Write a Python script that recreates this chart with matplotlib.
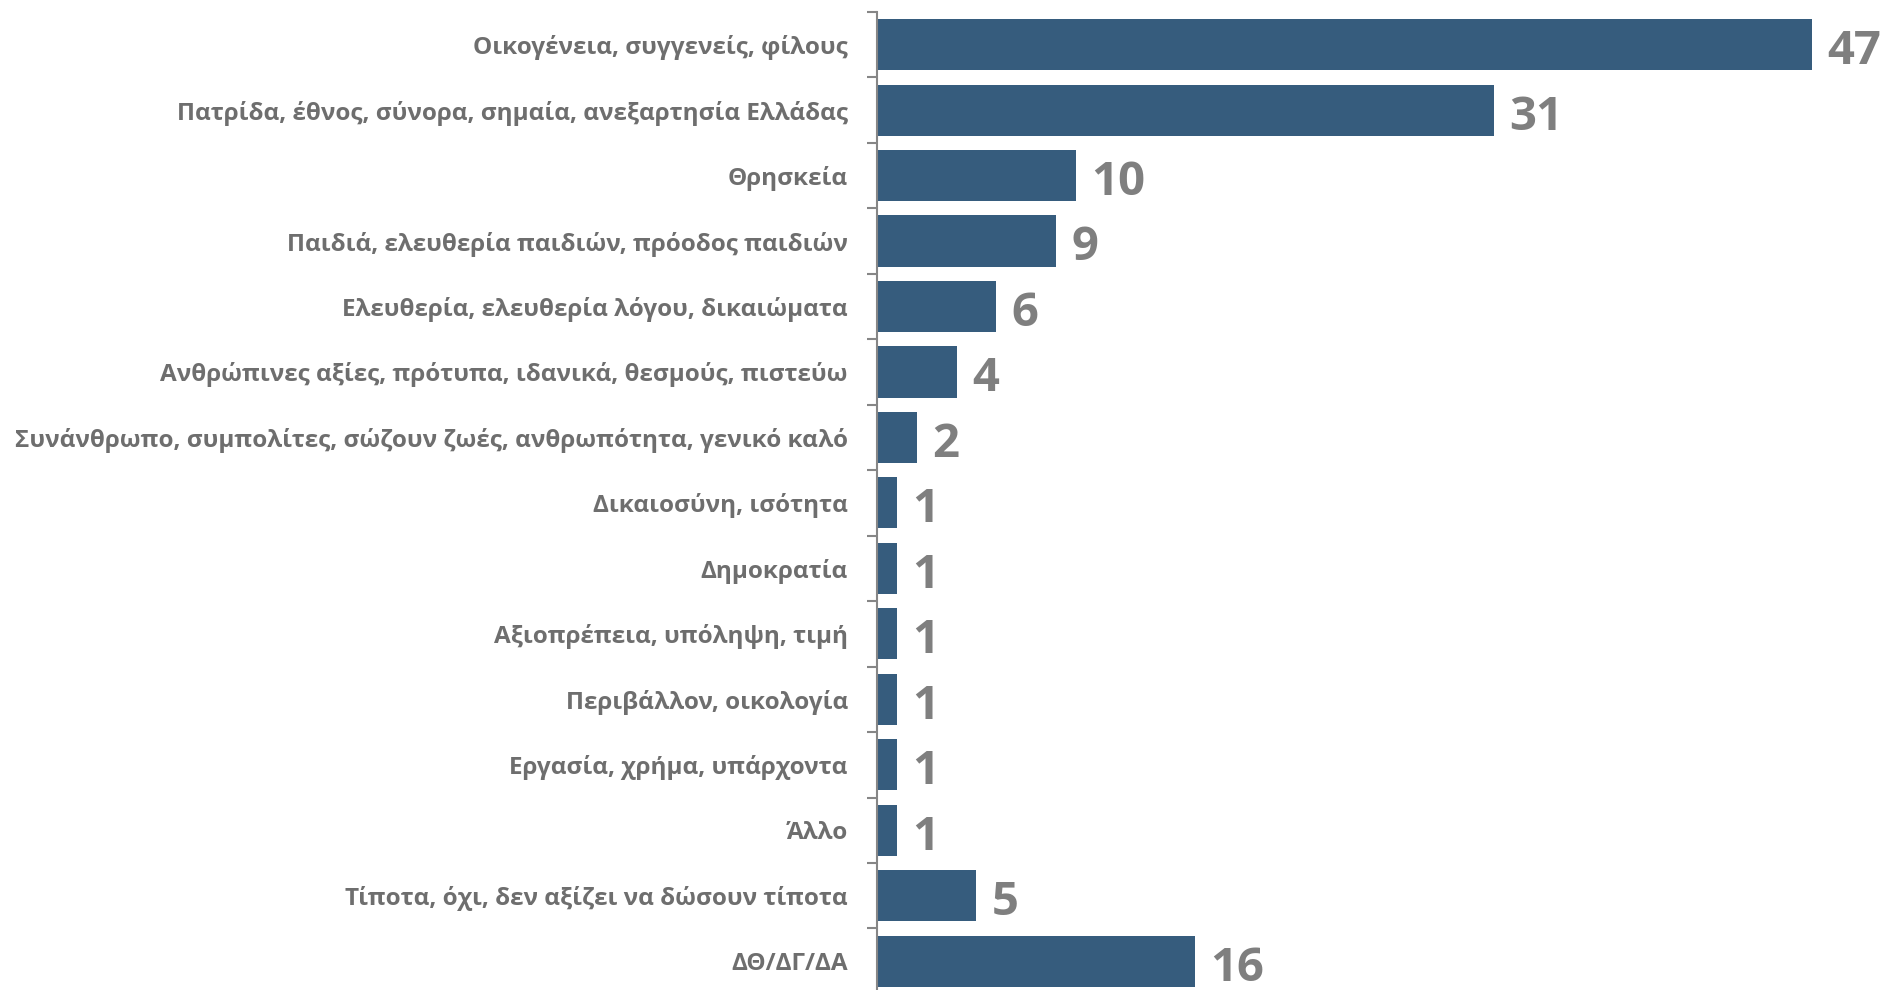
import matplotlib.pyplot as plt
from matplotlib import font_manager

categories = [
    "Οικογένεια, συγγενείς, φίλους",
    "Πατρίδα, έθνος, σύνορα, σημαία, ανεξαρτησία Ελλάδας",
    "Θρησκεία",
    "Παιδιά, ελευθερία παιδιών, πρόοδος παιδιών",
    "Ελευθερία, ελευθερία λόγου, δικαιώματα",
    "Ανθρώπινες αξίες, πρότυπα, ιδανικά, θεσμούς, πιστεύω",
    "Συνάνθρωπο, συμπολίτες, σώζουν ζωές, ανθρωπότητα, γενικό καλό",
    "Δικαιοσύνη, ισότητα",
    "Δημοκρατία",
    "Αξιοπρέπεια, υπόληψη, τιμή",
    "Περιβάλλον, οικολογία",
    "Εργασία, χρήμα, υπάρχοντα",
    "Άλλο",
    "Τίποτα, όχι, δεν αξίζει να δώσουν τίποτα",
    "ΔΘ/ΔΓ/ΔΑ",
]
values = [47, 31, 10, 9, 6, 4, 2, 1, 1, 1, 1, 1, 1, 5, 16]

names = {f.name for f in font_manager.fontManager.ttflist}
family = [f for f in ["Liberation Sans Narrow", "Open Sans", "DejaVu Sans"] if f in names]
plt.rcParams['font.family'] = family

bar_color = "#365C7D"
text_grey = "#7F7F7F"
label_grey = "#6E6E6E"

fig = plt.figure(figsize=(18.85, 9.9), dpi=100)
ax = fig.add_axes([877 / 1885, -0.004, (1812 - 877) / 1885, 0.992])

y = list(range(len(categories)))
ax.barh(y, values, height=0.78, color=bar_color)
ax.set_xlim(0, 47)
ax.set_ylim(len(categories) - 0.5, -0.5)

for yi, v in zip(y, values):
    ax.annotate(str(v), (v, yi), xytext=(11, -5), textcoords="offset points",
                va="center", ha="left", fontsize=34, fontweight="bold",
                color=text_grey, annotation_clip=False)

ax.set_yticks(y)
ax.set_yticklabels(categories, fontsize=17.5, fontweight="bold", color=label_grey)
ax.set_yticks([i - 0.5 for i in range(len(categories) + 1)], minor=True)
ax.tick_params(axis="y", which="major", length=0, pad=21)
ax.tick_params(axis="y", which="minor", length=7, width=1.5, color="#868686")
ax.set_xticks([])

for s in ["top", "right", "bottom"]:
    ax.spines[s].set_visible(False)
ax.spines["left"].set_color("#868686")
ax.spines["left"].set_linewidth(1.5)

fig.savefig("out.png", dpi=100)
